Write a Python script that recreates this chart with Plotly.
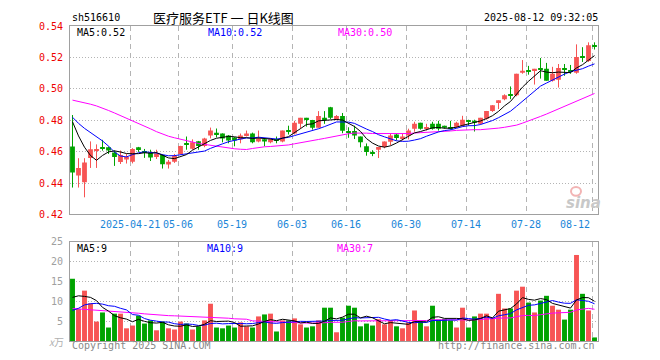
import plotly.graph_objects as go

# ---------------- data ----------------
dates = (
    ["2025-04-%s" % d for d in ["07","08","09","10","11","14","15","16","17","18","21","22","23","24","25","28","29","30"]]
    + ["2025-05-%s" % d for d in ["06","07","08","09","12","13","14","15","16","19","20","21","22","23","26","27","28","29","30"]]
    + ["2025-06-%s" % d for d in ["03","04","05","06","09","10","11","12","13","16","17","18","19","20","23","24","25","26","27","30"]]
    + ["2025-07-%s" % d for d in ["01","02","03","04","07","08","09","10","11","14","15","16","17","18","21","22","23","24","25","28","29","30","31"]]
    + ["2025-08-%s" % d for d in ["01","04","05","06","07","08","11","12"]]
)

opens = [0.4633, 0.4448, 0.4405, 0.4559, 0.4610, 0.4630, 0.4627, 0.4594, 0.4534, 0.4550,
         0.4535, 0.4628, 0.4600, 0.4592, 0.4565, 0.4578, 0.4518, 0.4535, 0.4585, 0.4650,
         0.4618, 0.4666, 0.4635, 0.4703, 0.4720, 0.4715, 0.4703, 0.4690, 0.4678, 0.4703,
         0.4715, 0.4665, 0.4678, 0.4659, 0.4673, 0.4665, 0.4736, 0.4715, 0.4777, 0.4815,
         0.4802, 0.4752, 0.4815, 0.4883, 0.4802, 0.4827, 0.4728, 0.4731, 0.4696, 0.4634,
         0.4594, 0.4612, 0.4629, 0.4662, 0.4709, 0.4684, 0.4703, 0.4746, 0.4784, 0.4750,
         0.4777, 0.4777, 0.4765, 0.4754, 0.4759, 0.4765, 0.4797, 0.4797, 0.4778, 0.4809,
         0.4859, 0.4915, 0.4934, 0.4960, 0.4959, 0.5102, 0.5117, 0.5115, 0.5129, 0.5127,
         0.5052, 0.5058, 0.5129, 0.5115, 0.5102, 0.5204, 0.5177, 0.5277]
highs = [0.4833, 0.4558, 0.4558, 0.4665, 0.4646, 0.4675, 0.4632, 0.4607, 0.4607, 0.4585,
         0.4622, 0.4630, 0.4617, 0.4612, 0.4612, 0.4583, 0.4547, 0.4585, 0.4637, 0.4696,
         0.4678, 0.4668, 0.4688, 0.4753, 0.4747, 0.4716, 0.4705, 0.4692, 0.4715, 0.4734,
         0.4721, 0.4734, 0.4680, 0.4684, 0.4696, 0.4734, 0.4765, 0.4796, 0.4815, 0.4815,
         0.4802, 0.4858, 0.4858, 0.4885, 0.4833, 0.4846, 0.4755, 0.4765, 0.4696, 0.4652,
         0.4609, 0.4629, 0.4665, 0.4715, 0.4715, 0.4715, 0.4746, 0.4790, 0.4784, 0.4777,
         0.4790, 0.4796, 0.4765, 0.4796, 0.4790, 0.4828, 0.4803, 0.4803, 0.4815, 0.4859,
         0.4896, 0.4927, 0.4965, 0.5015, 0.5096, 0.5183, 0.5146, 0.5127, 0.5196, 0.5165,
         0.5140, 0.5158, 0.5158, 0.5152, 0.5283, 0.5265, 0.5296, 0.5296]
lows = [0.4371, 0.4371, 0.4309, 0.4496, 0.4496, 0.4606, 0.4585, 0.4509, 0.4521, 0.4524,
        0.4525, 0.4598, 0.4560, 0.4540, 0.4553, 0.4492, 0.4492, 0.4528, 0.4583, 0.4612,
        0.4612, 0.4612, 0.4628, 0.4684, 0.4690, 0.4659, 0.4653, 0.4634, 0.4653, 0.4696,
        0.4653, 0.4659, 0.4634, 0.4653, 0.4653, 0.4659, 0.4709, 0.4709, 0.4746, 0.4759,
        0.4740, 0.4752, 0.4777, 0.4808, 0.4800, 0.4717, 0.4688, 0.4680, 0.4627, 0.4574,
        0.4571, 0.4559, 0.4621, 0.4640, 0.4671, 0.4671, 0.4678, 0.4727, 0.4740, 0.4734,
        0.4740, 0.4734, 0.4746, 0.4740, 0.4752, 0.4759, 0.4765, 0.4728, 0.4772, 0.4803,
        0.4853, 0.4871, 0.4927, 0.4934, 0.4952, 0.5096, 0.5090, 0.5027, 0.5065, 0.5052,
        0.5046, 0.5008, 0.5083, 0.5096, 0.5096, 0.5171, 0.5171, 0.5250]
closes = [0.4467, 0.4496, 0.4530, 0.4615, 0.4615, 0.4622, 0.4607, 0.4565, 0.4578, 0.4566,
          0.4616, 0.4610, 0.4594, 0.4562, 0.4588, 0.4520, 0.4535, 0.4572, 0.4635, 0.4643,
          0.4660, 0.4635, 0.4684, 0.4734, 0.4712, 0.4684, 0.4671, 0.4671, 0.4703, 0.4715,
          0.4659, 0.4684, 0.4665, 0.4678, 0.4669, 0.4734, 0.4730, 0.4784, 0.4815, 0.4802,
          0.4752, 0.4827, 0.4802, 0.4815, 0.4827, 0.4733, 0.4722, 0.4702, 0.4659, 0.4598,
          0.4590, 0.4629, 0.4665, 0.4703, 0.4686, 0.4696, 0.4734, 0.4777, 0.4746, 0.4754,
          0.4746, 0.4746, 0.4752, 0.4750, 0.4784, 0.4803, 0.4790, 0.4784, 0.4815, 0.4859,
          0.4896, 0.4927, 0.4959, 0.4956, 0.5096, 0.5115, 0.5113, 0.5127, 0.5125, 0.5052,
          0.5096, 0.5133, 0.5125, 0.5108, 0.5202, 0.5200, 0.5277, 0.5270]
volumes = [15.7, 8.1, 12.7, 9.5, 4.9, 7.2, 3.4, 6.9, 6.9, 3.2,
           3.9, 6.4, 4.4, 5.2, 2.7, 4.9, 3.2, 2.9, 4.9, 4.4,
           2.9, 3.7, 5.2, 9.4, 3.4, 3.2, 3.9, 3.4, 4.7, 3.7,
           3.4, 6.2, 6.7, 6.9, 2.4, 5.2, 5.2, 5.7, 4.2, 3.4,
           3.7, 5.2, 8.4, 8.4, 2.2, 5.9, 8.9, 8.4, 3.7, 4.4,
           3.9, 5.5, 4.2, 5.2, 3.7, 3.2, 4.7, 7.7, 4.9, 3.7,
           8.9, 5.4, 5.6, 5.2, 3.4, 8.4, 3.4, 6.2, 6.9, 6.9,
           5.7, 11.9, 8.2, 8.2, 12.7, 13.7, 9.7, 7.2, 10.2, 11.4,
           8.9, 7.9, 5.4, 7.9, 21.7, 11.9, 7.7, 0.9]

# moving-average values before enough in-window history exists
ma5_head = [0.4790, 0.4700, 0.4628, 0.4575]
ma10_head = [0.4819, 0.4780, 0.4748, 0.4722, 0.4698, 0.4668, 0.4635, 0.4597, 0.4572]
ma30_head = [0.4928, 0.4920, 0.4911, 0.4902, 0.4891, 0.4878, 0.4862, 0.4846, 0.4830, 0.4814,
             0.4798, 0.4781, 0.4763, 0.4745, 0.4727, 0.4710, 0.4698, 0.4688, 0.4678, 0.4668,
             0.4660, 0.4652, 0.4646, 0.4640, 0.4634, 0.4628, 0.4623, 0.4618, 0.4615]
vma5_head = [11.0, 11.4, 11.25, 11.0]
vma10_head = [7.7, 8.25, 9.1, 9.4, 9.5, 9.3, 8.9, 8.75, 8.25]
vma30_head = [8.2, 8.1, 8.0, 7.9, 7.8, 7.7, 7.6, 7.5, 7.4, 7.35,
              7.2, 7.0, 6.85, 6.7, 6.6, 6.5, 6.4, 6.35, 6.3, 6.25,
              6.2, 6.15, 6.1, 6.05, 6.0, 5.9, 5.75, 5.6, 5.5]

tick_dates = ["2025-04-21", "2025-05-06", "2025-05-19", "2025-06-03", "2025-06-16",
              "2025-06-30", "2025-07-14", "2025-07-28", "2025-08-12"]
tick_labels = ["2025-04-21", "05-06", "05-19", "06-03", "06-16", "06-30", "07-14", "07-28", "08-12"]
price_ticks = [0.42, 0.44, 0.46, 0.48, 0.50, 0.52, 0.54]
vol_ticks = [5, 10, 15, 20, 25]

# legend texts as displayed in the picture
price_legend = ["MA5:0.52", "MA10:0.52", "MA30:0.50"]
vol_legend = ["MA5:9", "MA10:9", "MA30:7"]

# ---------------- helpers ----------------
def moving_avg(vals, w, head):
    out = list(head)
    for i in range(len(head), len(vals)):
        out.append(sum(vals[i - w + 1:i + 1]) / w)
    return out

n = len(dates)
xs = list(range(n))
ma5 = moving_avg(closes, 5, ma5_head)
ma10 = moving_avg(closes, 10, ma10_head)
ma30 = moving_avg(closes, 30, ma30_head)
vma5 = moving_avg(volumes, 5, vma5_head)
vma10 = moving_avg(volumes, 10, vma10_head)
vma30 = moving_avg(volumes, 30, vma30_head)

RED = "#f75454"
GREEN = "#00a300"
up = [c >= o for o, c in zip(opens, closes)]
colors = [RED if u else GREEN for u in up]

MONO = "DejaVu Sans Mono"
CJK = "Noto Sans CJK SC"
GRID_OFF = -0.37
grid_x = [dates.index(d) + GRID_OFF for d in tick_dates]

fig = go.Figure()

# wicks
for col, flag in [(RED, True), (GREEN, False)]:
    wx, wy = [], []
    for i in xs:
        if up[i] == flag:
            wx += [i, i, None]
            wy += [lows[i], highs[i], None]
    fig.add_trace(go.Scatter(x=wx, y=wy, mode="lines", line=dict(color=col, width=1),
                             hoverinfo="skip", xaxis="x", yaxis="y"))

# bodies
fig.add_trace(go.Bar(
    x=xs, y=[max(abs(c - o), 0.0006) for o, c in zip(opens, closes)],
    base=[min(o, c) for o, c in zip(opens, closes)],
    marker=dict(color=colors, line=dict(width=0)), width=0.8,
    xaxis="x", yaxis="y"))

for vals, col in [(ma30, "#ff00ff"), (ma10, "#0000ff"), (ma5, "#000000")]:
    fig.add_trace(go.Scatter(x=xs, y=vals, mode="lines", line=dict(color=col, width=1),
                             xaxis="x", yaxis="y"))

# volume
fig.add_trace(go.Bar(x=xs, y=volumes, marker=dict(color=colors, line=dict(width=0)),
                     width=0.82, xaxis="x2", yaxis="y2"))
for vals, col in [(vma30, "#ff00ff"), (vma10, "#0000ff"), (vma5, "#000000")]:
    fig.add_trace(go.Scatter(x=xs, y=vals, mode="lines", line=dict(color=col, width=1),
                             xaxis="x2", yaxis="y2"))

# page places the figure 8px in from the top-left corner
OFF = 8
SW, SH = 660, 360           # screen size
L, R, T, B = 70, 62, 20, 19  # plot-area edges on screen
W, H = SW - OFF, SH - OFF
PW, PH = SW - L - R, SH - T - B

def px(x):
    return (x - L) / PW

def py(y):
    return (SH - B - y) / PH

xr = [-0.4167, n - 1 + 0.5833]
axis_common = dict(showline=True, mirror=True, linecolor="#a0a0a0", linewidth=1,
                   zeroline=False, ticks="")
grid_v = dict(showgrid=True, gridcolor="#b4b4b4", griddash="5px,4px", gridwidth=1)
grid_h = dict(showgrid=True, gridcolor="#b4b4b4", griddash="1px,2px", gridwidth=1)
fig.update_layout(
    width=W, height=H, margin=dict(l=L - OFF, r=R, t=T - OFF, b=B),
    paper_bgcolor="white", plot_bgcolor="white", showlegend=False,
    barmode="overlay",
    xaxis=dict(domain=[0, 1], range=xr, anchor="y", tickvals=grid_x, showticklabels=False,
               **grid_v, **axis_common),
    xaxis2=dict(domain=[0, 1], range=xr, anchor="y2", matches="x", tickvals=grid_x,
                showticklabels=False, **grid_v, **axis_common),
    yaxis=dict(domain=[py(212), 1], range=[0.42, 0.54], anchor="x", tickvals=price_ticks,
               ticktext=["%.2f" % v for v in price_ticks],
               tickfont=dict(family=MONO, size=10, color="#ee0000"), ticklabelstandoff=4,
               **grid_h, **axis_common),
    yaxis2=dict(domain=[0, py(240)], range=[0, 25], anchor="x2", tickvals=vol_ticks,
                ticktext=[str(v) for v in vol_ticks],
                tickfont=dict(family=MONO, size=10, color="#a0a0a0"), ticklabelstandoff=4,
                **grid_h, **axis_common),
)

ann = []

def text(x, y, s, color="#000000", size=10, family=MONO, xanchor="left"):
    ann.append(dict(x=px(x), y=py(y), xref="paper", yref="paper", text=s, showarrow=False,
                    xanchor=xanchor, yanchor="middle",
                    font=dict(family=family, size=size, color=color)))

# header
text(70, 11, "sh516610")
text(151, 11, "医疗服务ETF 一 日K线图", size=13, family=CJK)
text(600, 11, "2025-08-12 09:32:05", xanchor="right")
# MA legends
for xpos, s, col in zip([75, 206, 336], price_legend, ["#000000", "#0000ff", "#ff00ff"]):
    text(xpos, 27, s, color=col)
for xpos, s, col in zip([75, 205, 335], vol_legend, ["#000000", "#0000ff", "#ff00ff"]):
    text(xpos, 247, s, color=col)
# date labels
for gx, lab in zip(grid_x, tick_labels):
    xpix = L + (gx - xr[0]) / (xr[1] - xr[0]) * PW
    anchor = "right" if lab == tick_labels[-1] else "center"
    text(xpix, 222, lab, color="#1a86d8", xanchor=anchor)
# footer
text(70, 346, "Copyright 2025 SINA.COM", color="#888888")
text(597, 346, "http://finance.sina.com.cn", color="#888888", xanchor="right")
text(66, 341, "<i>x</i>万", color="#b0b0b0", size=10, family=CJK, xanchor="right")
# watermark
text(583, 200, "<b><i>sina</i></b>", color="#c8c8c8", size=15, family="DejaVu Sans", xanchor="center")
fig.add_shape(type="circle", xref="paper", yref="paper",
              x0=px(571), x1=px(581), y0=py(193), y1=py(184),
              line=dict(color="#f2b4b4", width=2), fillcolor="rgba(0,0,0,0)")

fig.update_layout(annotations=ann)
fig.write_html("out.html")
